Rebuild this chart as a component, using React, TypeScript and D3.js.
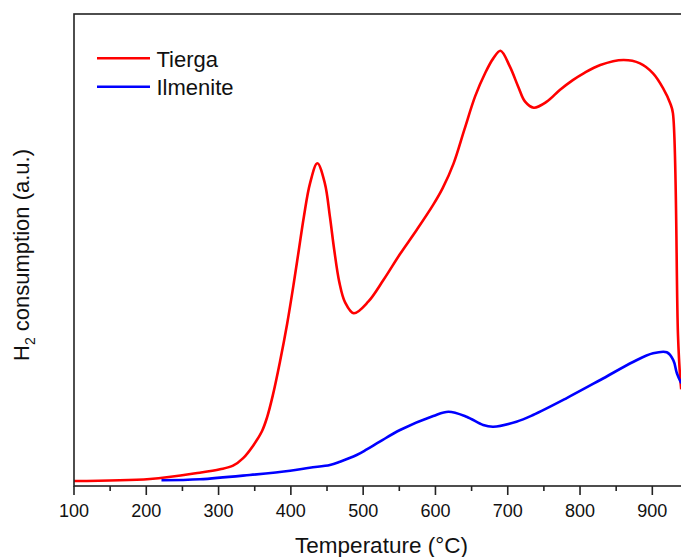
import React from "react";
import * as d3 from "d3";

const tiergaT = [100, 205, 274, 302, 320, 334, 348, 360, 367, 375, 385, 395, 404, 411, 418, 426.5, 436.6, 447, 454, 460, 467, 475, 487, 507, 528, 551, 574, 597, 610, 625, 640, 655, 668.5, 680, 690, 703, 714.5, 724, 736, 754, 772, 790, 805, 828, 860, 883, 901, 915, 925, 928.5, 935.5, 938.5, 940];
const tiergaV = [1.06, 1.48, 2.82, 3.54, 4.3, 5.9, 8.6, 11.6, 14.5, 19.2, 26.4, 34.5, 42.94, 50.0, 57.06, 64.13, 68.37, 64.13, 57.06, 50.0, 43.2, 38.9, 36.59, 39.05, 43.64, 49.15, 54.24, 59.6, 63.1, 68.3, 75.5, 82.6, 87.4, 90.6, 92.22, 88.84, 84.6, 81.42, 80.15, 81.42, 83.9, 86.0, 87.44, 89.19, 90.25, 89.55, 87.44, 84.26, 81.0, 79.0, 32.0, 23.0, 20.5];

const ilmeniteT = [221, 274, 343, 399, 426, 454, 468, 491, 505, 523, 551, 597, 618, 643, 666, 680, 712, 735, 781, 828, 874, 901, 920, 929, 934, 940];
const ilmeniteV = [1.21, 1.42, 2.33, 3.24, 3.88, 4.45, 5.15, 6.57, 7.75, 9.39, 11.86, 14.83, 15.74, 14.68, 12.92, 12.56, 13.62, 15.04, 18.58, 22.46, 26.33, 28.11, 28.33, 26.69, 23.88, 21.76];

const majorTicks = [100, 200, 300, 400, 500, 600, 700, 800, 900];
const minorTicks = [150, 250, 350, 450, 550, 650, 750, 850];

const seriesNames = ["Tierga", "Ilmenite"];
const seriesColors = ["#ff0000", "#0000ff"];

const W = 681;
const H = 557;
const left = 74;
const top = 14;
const bottom = 486;
const FONT = "'Liberation Sans', Arial, sans-serif";

export default function App() {
  const x = d3.scaleLinear().domain([100, 950]).range([left, left + 850 * 0.7229]);
  const y = d3.scaleLinear().domain([0, 100]).range([bottom, top]);
  const line = d3
    .line<[number, number]>()
    .x((d) => x(d[0]))
    .y((d) => y(d[1]))
    .curve(d3.curveCatmullRom.alpha(0.5));

  const tierga = tiergaT.map((t, i) => [t, tiergaV[i]] as [number, number]);
  const ilmenite = ilmeniteT.map((t, i) => [t, ilmeniteV[i]] as [number, number]);
  const right = x(950);

  return (
    <svg
      width={W}
      height={H}
      style={{ position: "absolute", left: 0, top: 0, background: "#fff" }}
      fontFamily={FONT}
    >
      <rect x={0} y={0} width={W} height={H} fill="#fff" />
      <path d={line(tierga) || ""} fill="none" stroke={seriesColors[0]} strokeWidth={2.6} strokeLinejoin="round" />
      <path d={line(ilmenite) || ""} fill="none" stroke={seriesColors[1]} strokeWidth={2.6} strokeLinejoin="round" />

      {/* frame */}
      <rect x={left} y={top} width={right - left} height={bottom - top} fill="none" stroke="#222" strokeWidth={1.6} />

      {majorTicks.map((t) => (
        <g key={"M" + t}>
          <line x1={x(t)} x2={x(t)} y1={bottom} y2={bottom + 9} stroke="#222" strokeWidth={1.6} />
          <text x={x(t)} y={517} fontSize={18} textAnchor="middle" fill="#111">
            {t}
          </text>
        </g>
      ))}
      {minorTicks.map((t) => (
        <line key={"m" + t} x1={x(t)} x2={x(t)} y1={bottom} y2={bottom + 5} stroke="#222" strokeWidth={1.6} />
      ))}

      <text x={381.5} y={553} fontSize={22.5} textAnchor="middle" fill="#111">
        Temperature (°C)
      </text>

      <text transform="translate(29,255) rotate(-90)" fontSize={22} textAnchor="middle" fill="#111">
        H<tspan fontSize={14} dy={6}>2</tspan>
        <tspan dy={-6}> consumption (a.u.)</tspan>
      </text>

      {seriesNames.map((n, i) => (
        <g key={n}>
          <line x1={97} x2={150} y1={58.3 + i * 28.4} y2={58.3 + i * 28.4} stroke={seriesColors[i]} strokeWidth={2.6} />
          <text x={156.5} y={66.5 + i * 28.4} fontSize={22} fill="#111">
            {n}
          </text>
        </g>
      ))}
    </svg>
  );
}
